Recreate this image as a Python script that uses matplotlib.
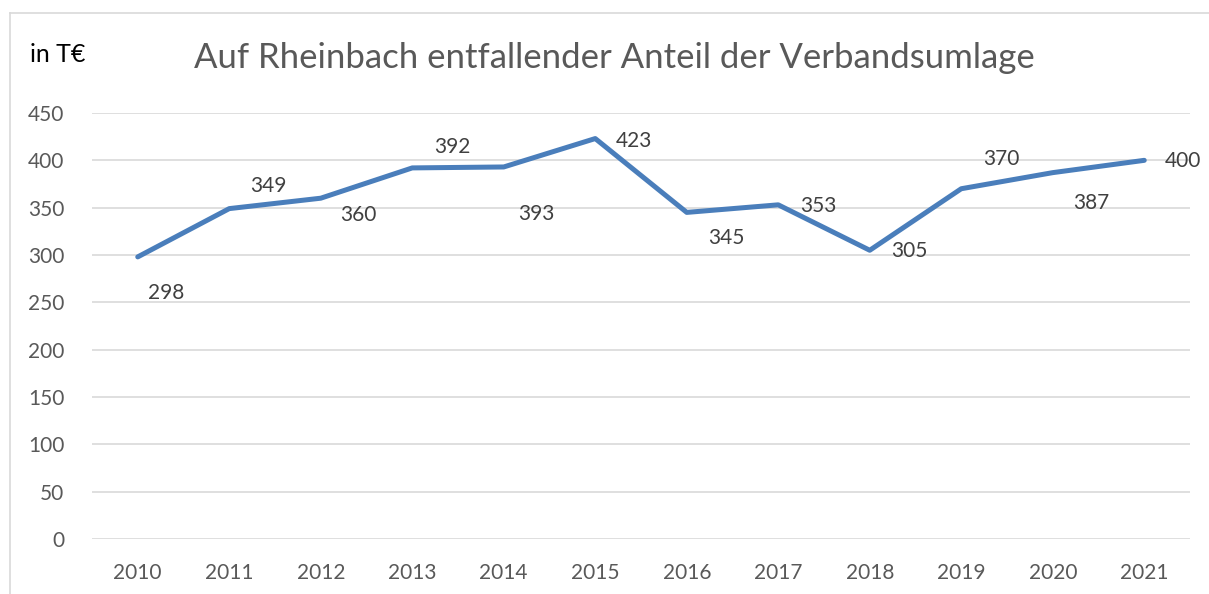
import matplotlib
matplotlib.use('Agg')
import matplotlib.pyplot as plt
from matplotlib.lines import Line2D

plt.rcParams['font.family'] = ['Lato', 'DejaVu Sans']

years = ['2010', '2011', '2012', '2013', '2014', '2015',
         '2016', '2017', '2018', '2019', '2020', '2021']
values = [298, 349, 360, 392, 393, 423, 345, 353, 305, 370, 387, 400]
# label offsets in pixels (dx, dy) from each point
offsets = [(28, -36), (39, 23), (38, -17), (40, 21), (33, -47), (39, -2),
           (40, -26), (40, -1), (40, -1), (40, 30), (39, -30), (39, -1)]

grey = '#595959'
fig = plt.figure(figsize=(12.09, 5.94), dpi=100)
ax = fig.add_axes([92 / 1209, 1 - 539 / 594, 1098 / 1209, (539 - 113) / 594])

x = list(range(len(years)))
ax.plot(x, values, '-', color='#4a7ebb', lw=3.6, solid_capstyle='round', zorder=3)

for xi, v, (dx, dy) in zip(x, values, offsets):
    ax.annotate(str(v), (xi, v), xytext=(dx * 0.72, dy * 0.72),
                textcoords='offset points', ha='center', va='center',
                fontsize=15, color='#404040')

ax.set_xlim(-0.5, len(years) - 0.5)
ax.set_ylim(0, 450)
ax.set_yticks(range(0, 451, 50))
ax.set_xticks(x)
ax.set_xticklabels(years)
ax.grid(axis='y', color='#d9d9d9', lw=1.2)
ax.set_axisbelow(True)
for s in ax.spines.values():
    s.set_visible(False)
ax.tick_params(length=0, labelsize=15, labelcolor=grey)
ax.tick_params(axis='x', pad=17)
ax.tick_params(axis='y', pad=20)

fig.text(0.5 * (198 + 1030) / 1209, 1 - 58 / 594,
         'Auf Rheinbach entfallender Anteil der Verbandsumlage',
         ha='center', va='center', fontsize=25, color=grey)
fig.text(30 / 1209, 1 - 55 / 594, 'in T€', ha='left', va='center',
         fontsize=18, color='black')

# outer frame (top and left edges visible)
fig.add_artist(Line2D([10 / 1209, 1], [1 - 13 / 594, 1 - 13 / 594],
                      color='#d9d9d9', lw=1.2, transform=fig.transFigure))
fig.add_artist(Line2D([10 / 1209, 10 / 1209], [0, 1 - 13 / 594],
                      color='#d9d9d9', lw=1.2, transform=fig.transFigure))

fig.savefig('out.png', dpi=100)
